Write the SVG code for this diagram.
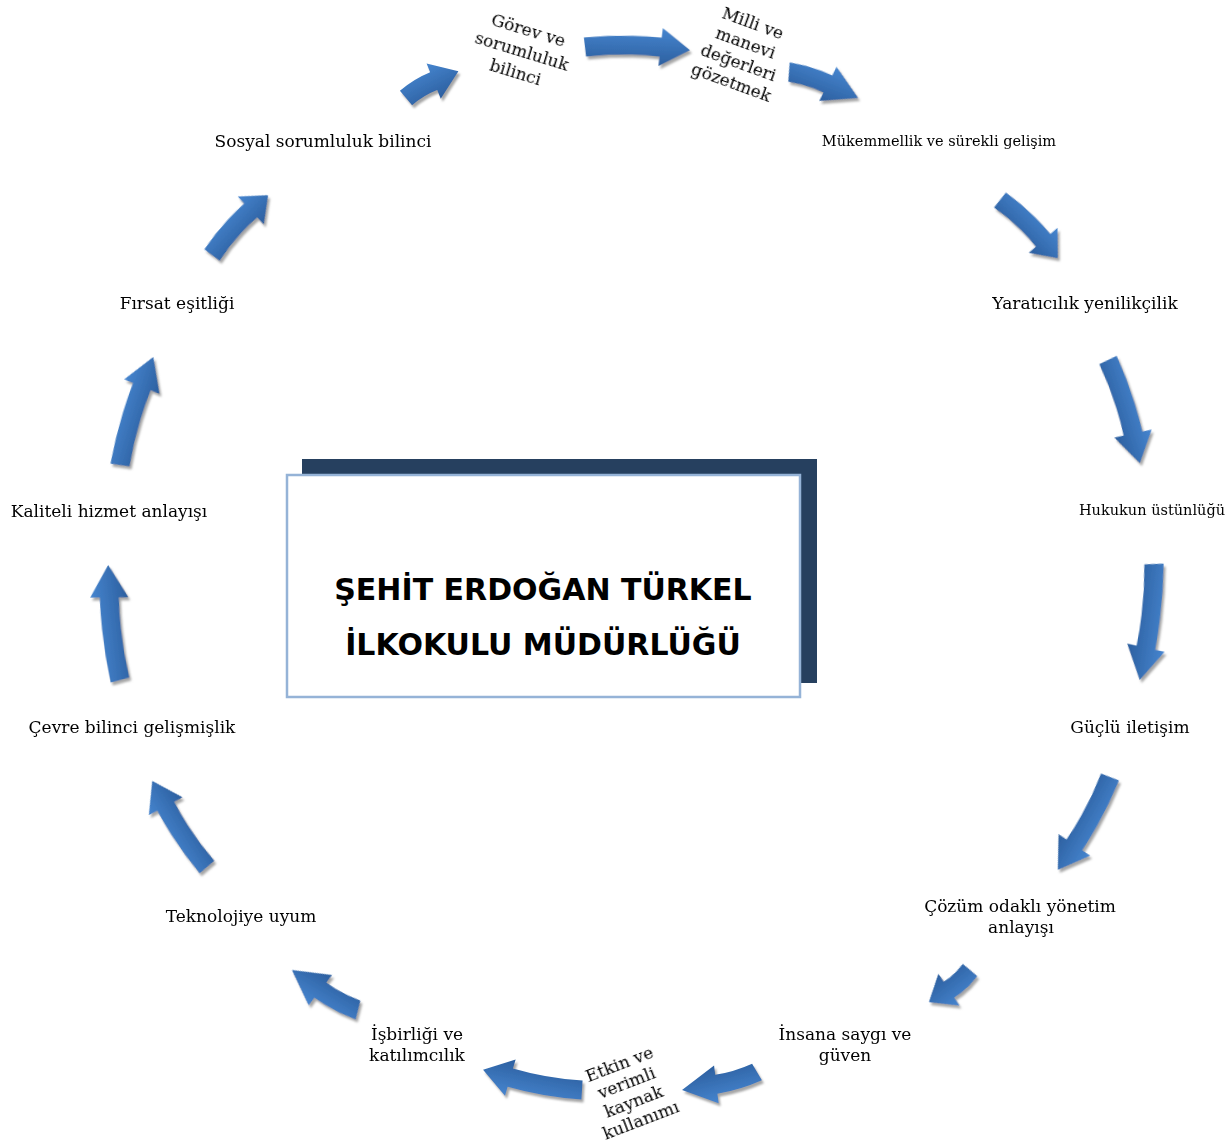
<svg xmlns="http://www.w3.org/2000/svg" xmlns:xlink="http://www.w3.org/1999/xlink" width="1231" height="1144" viewBox="0 0 1231 1144">
<style>
.lbl{font-family:"DejaVu Serif","Liberation Serif",serif;font-size:17px;fill:#000;text-anchor:middle}
.sm{font-size:14.5px}
.rot{font-size:17px}
.title{font-family:"DejaVu Sans","Liberation Sans",sans-serif;font-weight:bold;font-size:30px;fill:#000;text-anchor:middle}
</style>
<defs>
<linearGradient id="ag" x1="0" y1="0" x2="0" y2="1">
<stop offset="0" stop-color="#4685cf"/>
<stop offset="1" stop-color="#2c5f9f"/>
</linearGradient>
<path id="arrA" d="M -1.3,-9.4 Q 35.7,-14.5 72.8,-11.5 L 73.6,-20.9 L 100,0.3 L 70.4,16.9 L 71.2,7.5 Q 36.3,4.5 1.3,9.4 Z" fill="url(#ag)"/>
<path id="arrB" d="M -2.2,-9.2 Q 15.8,-13.5 33.9,-12 L 34.7,-21.4 L 60,0 L 31.3,16.4 L 32.1,7 Q 17.2,5.5 2.2,9.2 Z" fill="url(#ag)"/>
<filter id="sh" x="-10%" y="-10%" width="120%" height="120%">
<feGaussianBlur in="SourceAlpha" stdDeviation="1.2" result="b"/>
<feOffset in="b" dx="2" dy="3" result="o"/>
<feFlood flood-color="#808080" flood-opacity="0.7"/>
<feComposite in2="o" operator="in" result="s"/>
<feMerge><feMergeNode in="s"/><feMergeNode in="SourceGraphic"/></feMerge>
</filter>
</defs>
<rect width="1231" height="1144" fill="#fff"/>

<g id="connectors" filter="url(#sh)">
<use xlink:href="#arrB" transform="translate(406,98) rotate(-27) scale(0.98,1)"/>
<use xlink:href="#arrA" transform="translate(585,47) rotate(1.6) scale(1.05,1)"/>
<use xlink:href="#arrB" transform="translate(789,72) rotate(20.6) scale(1.23,1)"/>
<use xlink:href="#arrA" transform="translate(1000,200) rotate(45) scale(0.82,1)"/>
<use xlink:href="#arrA" transform="translate(1108,360) rotate(72.7) scale(1.079,1)"/>
<use xlink:href="#arrA" transform="translate(1154,564) rotate(96.9) scale(1.168,1)"/>
<use xlink:href="#arrA" transform="translate(1110,777) rotate(119.2) scale(1.065,1)"/>
<use xlink:href="#arrB" transform="translate(970,970) rotate(142) scale(0.87,1)"/>
<use xlink:href="#arrB" transform="translate(757,1072) rotate(166.5) scale(1.285,1)"/>
<use xlink:href="#arrA" transform="translate(582,1090) rotate(191.4) scale(1.01,1)"/>
<use xlink:href="#arrB" transform="translate(358,1010) rotate(211.2) scale(1.287,1)"/>
<use xlink:href="#arrA" transform="translate(207,867) rotate(237.4) scale(1.02,1)"/>
<use xlink:href="#arrA" transform="translate(120,680) rotate(264) scale(1.156,1)"/>
<use xlink:href="#arrA" transform="translate(120,465) rotate(-73) scale(1.13,1)"/>
<use xlink:href="#arrA" transform="translate(212,255) rotate(-47) scale(0.82,1)"/>
</g>

<g id="center">
<rect x="302" y="459" width="515" height="224" fill="#26405f"/>
<rect x="287" y="475" width="513" height="222" fill="#fff" stroke="#95b3d7" stroke-width="2.5"/>
<text class="title" x="543" y="600">ŞEHİT ERDOĞAN TÜRKEL</text>
<text class="title" x="543" y="655">İLKOKULU MÜDÜRLÜĞÜ</text>
</g>

<g id="n-gorev" transform="translate(522,51) rotate(17)">
<text class="lbl rot" x="0" y="-16">Görev ve</text>
<text class="lbl rot" x="0" y="6">sorumluluk</text>
<text class="lbl rot" x="0" y="28">bilinci</text>
</g>
<g id="n-milli" transform="translate(742,53) rotate(20)">
<text class="lbl rot" x="0" y="-26">Milli ve</text>
<text class="lbl rot" x="0" y="-5">manevi</text>
<text class="lbl rot" x="0" y="16">değerleri</text>
<text class="lbl rot" x="0" y="37">gözetmek</text>
</g>
<g id="n-mukemmellik"><text class="lbl sm" x="939" y="146">Mükemmellik ve sürekli gelişim</text></g>
<g id="n-yaraticilik"><text class="lbl" x="1085" y="309">Yaratıcılık yenilikçilik</text></g>
<g id="n-hukuk"><text class="lbl sm" x="1152" y="515">Hukukun üstünlüğü</text></g>
<g id="n-iletisim"><text class="lbl" x="1130" y="733">Güçlü iletişim</text></g>
<g id="n-cozum"><text class="lbl" x="1020" y="912">Çözüm odaklı yönetim</text><text class="lbl" x="1021" y="933">anlayışı</text></g>
<g id="n-insana"><text class="lbl" x="845" y="1040">İnsana saygı ve</text><text class="lbl" x="845" y="1061">güven</text></g>
<g id="n-etkin" transform="translate(630,1092) rotate(-21)">
<text class="lbl rot" x="0" y="-24">Etkin ve</text>
<text class="lbl rot" x="0" y="-4">verimli</text>
<text class="lbl rot" x="0" y="16">kaynak</text>
<text class="lbl rot" x="0" y="36">kullanımı</text>
</g>
<g id="n-isbirligi"><text class="lbl" x="417" y="1040">İşbirliği ve</text><text class="lbl" x="417" y="1061">katılımcılık</text></g>
<g id="n-teknoloji"><text class="lbl" x="241" y="922">Teknolojiye uyum</text></g>
<g id="n-cevre"><text class="lbl" x="132" y="733">Çevre bilinci gelişmişlik</text></g>
<g id="n-kaliteli"><text class="lbl" x="109" y="517">Kaliteli hizmet anlayışı</text></g>
<g id="n-firsat"><text class="lbl" x="177" y="309">Fırsat eşitliği</text></g>
<g id="n-sosyal"><text class="lbl" x="323" y="147">Sosyal sorumluluk bilinci</text></g>
</svg>
